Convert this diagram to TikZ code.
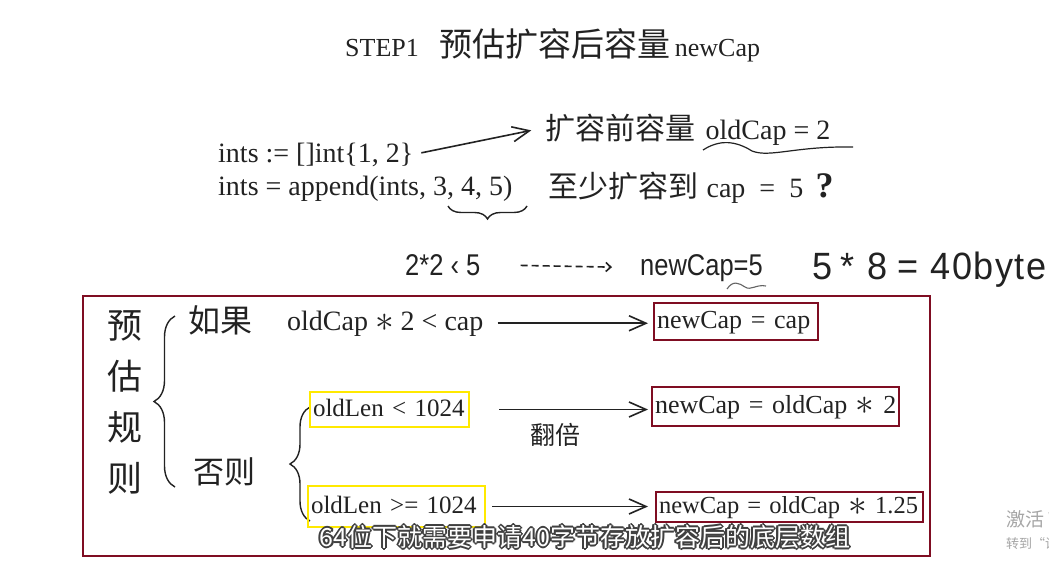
\documentclass[tikz,border=0pt]{standalone}
\usepackage{fontspec}
\setmainfont{Liberation Serif}
\newfontfamily\cjk{Noto Sans CJK SC}
\newfontfamily\narrowsans[FakeStretch=0.85]{Liberation Sans}
\newfontfamily\bigsans[FakeStretch=0.95]{Liberation Sans}
\usetikzlibrary{arrows.meta,decorations.pathreplacing,positioning}
\newcommand{\sz}[1]{\fontsize{#1}{#1}\selectfont}
\newcommand{\bigast}{\raisebox{-1.5pt}{\scalebox{1.5}{$\ast$}}}
\definecolor{ink}{HTML}{222222}
\definecolor{boxred}{HTML}{7F0D22}
\definecolor{hlyellow}{HTML}{FFE900}
\tikzset{
    txt/.style={inner sep=0pt, text=ink},
    arr/.style={draw=ink, line width=1.6pt, -{Straight Barb[length=17pt,width=15pt,line width=1.6pt]}},
    redbox/.style={draw=boxred, line width=2pt, inner xsep=3pt, inner ysep=0pt, align=left, text=ink,
        font=\sz{26pt}, text height=19pt, text depth=6pt, anchor=west},
    ylwbox/.style={redbox, draw=hlyellow, font=\sz{25pt}},
    curly/.style={draw=ink, line width=1.4pt, decorate, decoration={brace, amplitude=#1}},
}

\begin{document}
\begin{tikzpicture}[x=1pt, y=-1pt]
            \useasboundingbox (0,0) rectangle (1049,570);
            \fill[white] (0,0) rectangle (1049,570);

            % title
            \node[txt, anchor=base west] (title) at (345,56)
                {\sz{26pt}STEP1\hspace{21pt}{\cjk\sz{33pt}预估扩容后容量}\hspace{4pt}newCap};

            % code
            \node[txt, anchor=base west, font=\sz{28pt}] (code1) at (218,162) {ints := []int\{1, 2\}};
            \node[txt, anchor=base west, font=\sz{28pt}] (code2) at (218,195) {ints = append(ints, 3, 4, 5)};
            \node[txt, anchor=base west, font=\cjk\sz{30pt}] (before) at (545,139) {扩容前容量};
            \node[txt, anchor=base west, font=\sz{28pt}] (oldcap) at ([xshift=10pt]before.base east) {oldCap = 2};
            \node[txt, anchor=base west, font=\cjk\sz{30pt}] (atleast) at (548,197) {至少扩容到};
            \node[txt, anchor=base west, font=\sz{28pt}] (capfive) at ([xshift=8pt]atleast.base east) {cap\ \ =\ \ 5};
            \node[txt, anchor=base west, font=\bfseries\sz{36pt}] (ask) at ([xshift=12pt]capfive.base east) {?};

            \draw[arr, shorten <=8pt, shorten >=14pt] (code1.east) -- (before.west);
            \draw[ink, line width=1.2pt] (703,150) .. controls (720,139) and (736,141) .. (752,151)
                .. controls (770,158) and (795,146) .. (853,147);
            \draw[curly=13pt] (527,206) -- (448,206);

            % estimate
            \node[txt, anchor=base west, font=\narrowsans\sz{30pt}] (cmp) at (405,275) {2*2 ‹ 5};
            \node[txt, anchor=base west, font=\narrowsans\sz{30pt}] (newcapfive) at (640,275) {newCap=5};
            \node[txt, anchor=base west, font=\bigsans\sz{38pt}] (bytes) at (812,279)
                {5\hspace{8pt}*\hspace{13pt}8\hspace{10pt}=\hspace{12pt}4\kern1.5pt0\kern1.5pt b\kern1.5pt y\kern1.5pt t\kern1.5pt e};
            \draw[ink, line width=1.6pt, dash pattern=on 7pt off 4pt, -{Straight Barb[length=5pt,width=9pt]},
                shorten <=40pt, shorten >=28pt] (cmp.east) -- (newcapfive.west);
            \draw[ink!70, line width=1.1pt] (727,289) .. controls (733,280) and (739,283) .. (745,287)
                .. controls (751,291) and (756,284) .. (766,286);

            % rules
            \draw[boxred, line width=2pt] (83,296) rectangle (930,556);
            \node[txt, align=center, font=\cjk\fontsize{35pt}{51pt}\selectfont] (rulename) at (125,402) {预\\估\\规\\则};
            \draw[curly=21pt] (175,487) -- (175,316);
            \node[txt, font=\cjk\sz{32pt}] (ifword) at (220,320) {如果};
            \node[txt, font=\cjk\sz{31pt}] (elseword) at (224,472) {否则};
            \draw[curly=20pt] (310,521) -- (310,407);

            \node[txt, anchor=base west, font=\sz{28pt}] (cond1) at (287,330) {oldCap \bigast\ 2 < cap};
            \node[ylwbox, text width=153pt, minimum height=35pt] (cond2) at (309,409.5) {\mbox{oldLen < 1024}};
            \node[ylwbox, text width=171pt, minimum height=41pt] (cond3) at (307,506.5) {\mbox{oldLen >= 1024}};

            \node[redbox, text width=158pt, minimum height=37pt] (res1) at (653,321.5) {\mbox{newCap = cap}};
            \node[redbox, text width=241pt, minimum height=39pt] (res2) at (651,406.5) {\mbox{newCap = oldCap \bigast\ 2}};
            \node[redbox, text width=261pt, minimum height=30pt, font=\sz{24.5pt}] (res3) at (655,507)
                {\mbox{newCap = oldCap \bigast\ 1.25}};

            \draw[arr, shorten <=14pt, shorten >=5pt] (cond1.east) -- (cond1.east -| res1.west);
            \draw[arr, shorten <=29pt, shorten >=3pt] (cond2.east) -- (cond2.east -| res2.west);
            \draw[arr, shorten <=6pt, shorten >=7pt] (cond3.east) -- (cond3.east -| res3.west);
            \node[txt, font=\cjk\sz{25pt}] (double) at (555,435) {翻倍};

            % subtitle and watermark
            \foreach \a in {0,45,...,315}
                \node[font=\cjk\sz{25pt}, text=black!75] (sub\a) at ([shift={(\a:1.8)}]585,537)
                    {64位下就需要申请40字节存放扩容后的底层数组};
            \node[font=\cjk\sz{25pt}, text=white] (subtitle) at (585,537) {64位下就需要申请40字节存放扩容后的底层数组};
            \node[anchor=base west, inner sep=0pt, font=\cjk\sz{19pt}, text=black!35] (wmone) at (1006,526) {激活 Windows};
            \node[anchor=base west, inner sep=0pt, font=\cjk\sz{13pt}, text=black!35] (wmtwo) at (1006,548) {转到“设置”以激活 Windows。};
\end{tikzpicture}
\end{document}
